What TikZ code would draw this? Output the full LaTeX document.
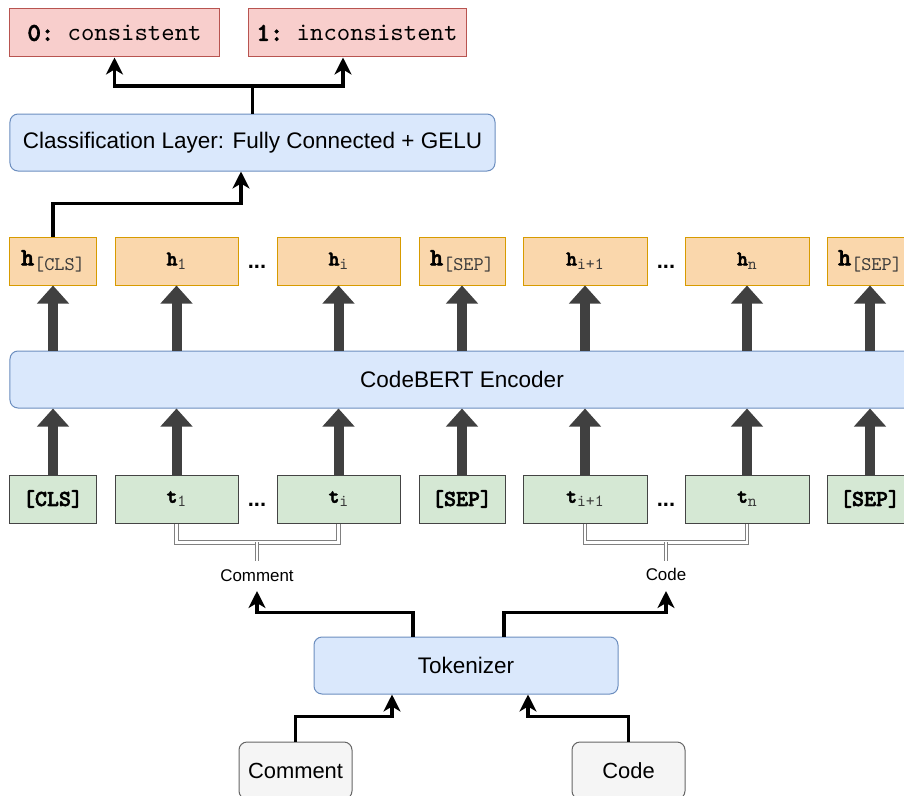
\documentclass[tikz,border=0pt]{standalone}
\usepackage{fontspec}
\setmainfont{Liberation Sans}
\setsansfont{Liberation Sans}
\setmonofont{lmmono10-regular.otf}[BoldFont=lmmonolt10-bold.otf,BoldFeatures={FakeBold=2.5}]
\usetikzlibrary{arrows.meta}

\definecolor{redfill}{HTML}{F8CECC}
\definecolor{redline}{HTML}{B85450}
\definecolor{bluefill}{HTML}{DAE8FC}
\definecolor{blueline}{HTML}{6C8EBF}
\definecolor{orangefill}{HTML}{FAD7AC}
\definecolor{orangeline}{HTML}{D79B00}
\definecolor{greenfill}{HTML}{D5E8D4}
\definecolor{greenline}{HTML}{444444}
\definecolor{greyfill}{HTML}{F5F5F5}
\definecolor{greyline}{HTML}{666666}
\definecolor{blockgray}{HTML}{404040}
\definecolor{subgray}{HTML}{3A3A3A}

% special tokens: large bold letter with a bracketed subscript
\newcommand{\tokbig}[2]{{\fontsize{25}{29}\selectfont\ttfamily\bfseries #1}\raisebox{-5bp}{\fontsize{19.4}{23}\selectfont\ttfamily\color{subgray}#2}}
% ordinary tokens: smaller bold letter with an index
\newcommand{\toksmall}[2]{{\fontsize{20.6}{24}\selectfont\ttfamily\bfseries #1}\raisebox{-4bp}{\fontsize{17}{20}\selectfont\ttfamily\color{subgray}#2}}

\begin{document}
\begin{tikzpicture}[x=1bp,y=-1bp,
  box/.style={draw, rectangle, inner sep=0pt, line width=1bp},
  outbox/.style={box, fill=redfill, draw=redline, minimum height=48bp,
    font=\fontsize{25.6}{29}\selectfont\ttfamily},
  layer/.style={box, fill=bluefill, draw=blueline, rounded corners=8bp,
    minimum height=57bp, font=\fontsize{22.6}{26}\selectfont\sffamily},
  hbox/.style={box, fill=orangefill, draw=orangeline, minimum height=48bp},
  tbox/.style={box, fill=greenfill, draw=greenline, minimum height=48bp},
  inbox/.style={box, fill=greyfill, draw=greyline, rounded corners=8bp,
    minimum width=113bp, minimum height=57bp, font=\fontsize{22}{26}\selectfont\sffamily},
  dots/.style={inner sep=0pt, font=\fontsize{22}{26}\selectfont\sffamily\bfseries},
  special/.style={font=\fontsize{22.9}{26}\selectfont\ttfamily\bfseries},
  lbl/.style={inner sep=0pt, font=\fontsize{17}{20}\selectfont\sffamily},
  conn/.style={line width=3.5bp, black, line join=miter,
    -{Stealth[length=17bp,width=17bp,inset=5bp]}},
  blockarrow/.style={line width=10bp, blockgray,
    -{Triangle[length=18bp,width=31bp]}},
  bracket/.style={draw=gray, line width=0.9bp, double=white, double distance=2.6bp}
]
\useasboundingbox (0,0) rectangle (904,796);
\clip (0,0) rectangle (904,796);

% output classes
\node[outbox, minimum width=209bp] (r0) at (114.5,33) {\textbf{0:} consistent};
\node[outbox, minimum width=218bp] (r1) at (357,33) {\textbf{1:} inconsistent};

% classification head
\node[layer, minimum width=485bp] (cls) at (252.5,142.5)
  {Classification Layer: Fully Connected + GELU};

% hidden states
\node[hbox, minimum width=86bp]  (hcls) at (53,261)   {\tokbig{h}{[CLS]}};
\node[hbox, minimum width=123bp] (h1)   at (176.5,261){\toksmall{h}{1}};
\node[hbox, minimum width=123bp] (hi)   at (338.5,261){\toksmall{h}{i}};
\node[hbox, minimum width=86bp]  (hsep) at (462,261)  {\tokbig{h}{[SEP]}};
\node[hbox, minimum width=124bp] (hi1)  at (585,261)  {\toksmall{h}{i+1}};
\node[hbox, minimum width=124bp] (hn)   at (747,261)  {\toksmall{h}{n}};
\node[hbox, minimum width=86bp]  (hsep2) at (870,261) {\tokbig{h}{[SEP]}};
\node[dots] (hdotsA) at (257,267) {...};
\node[dots] (hdotsB) at (666,267) {...};

% encoder
\node[layer, minimum width=904bp] (enc) at (462,379.5) {CodeBERT Encoder};

% input tokens
\node[tbox, special, minimum width=86bp]  (tcls) at (53,499)   {[CLS]};
\node[tbox, minimum width=123bp] (t1)   at (176.5,499){\toksmall{t}{1}};
\node[tbox, minimum width=123bp] (ti)   at (338.5,499){\toksmall{t}{i}};
\node[tbox, special, minimum width=86bp]  (tsep) at (462,499)  {[SEP]};
\node[tbox, minimum width=124bp] (ti1)  at (585,499)  {\toksmall{t}{i+1}};
\node[tbox, minimum width=124bp] (tn)   at (747,499)  {\toksmall{t}{n}};
\node[tbox, special, minimum width=86bp]  (tsep2) at (870,499) {[SEP]};
\node[dots] (tdotsA) at (257,505) {...};
\node[dots] (tdotsB) at (666,505) {...};

% segment labels
\node[lbl] (lblComment) at (257,576) {Comment};
\node[lbl] (lblCode) at (666,574) {Code};
\coordinate (cmtTip) at (257,591);
\coordinate (codeTip) at (666,591);

% tokenizer and raw inputs
\node[layer, minimum width=304bp] (tok) at (466,665.5) {Tokenizer};
\node[inbox] (cmt) at (295.5,770.5) {Comment};
\node[inbox] (code) at (628.5,770.5) {Code};

% block arrows: tokens -> encoder -> hidden states
\foreach \t/\h in {tcls/hcls, t1/h1, ti/hi, tsep/hsep, ti1/hi1, tn/hn, tsep2/hsep2}{
  \draw[blockarrow] (\t.north) -- (\t.north |- enc.south);
  \draw[blockarrow] (\h.south |- enc.north) -- (\h.south);
}

% segment brackets
\draw[bracket] (t1.south) -- ++(0,19) -| (ti.south);
\draw[bracket] (lblComment.north |- 0,542) -- ++(0,19);
\draw[bracket] (ti1.south) -- ++(0,19) -| (tn.south);
\draw[bracket] (lblCode.north |- 0,542) -- ++(0,19);

% connectors
\coordinate (split) at (252.5,86);
\draw[conn] (cls.north) -- (split) -| (r0.south);
\draw[conn] (split) -| ([xshift=-14bp]r1.south);
\draw[conn] (hcls.north) -- ++(0,-33) -| ([xshift=-11.5bp]cls.south);
\draw[conn] ([xshift=-53bp]tok.north) -- ++(0,-24) -| (cmtTip);
\draw[conn] ([xshift=38bp]tok.north) -- ++(0,-24) -| (codeTip);
\draw[conn] (cmt.north) -- ++(0,-25) -| ([xshift=-74bp]tok.south);
\draw[conn] (code.north) -- ++(0,-25) -| ([xshift=62bp]tok.south);
\end{tikzpicture}
\end{document}
